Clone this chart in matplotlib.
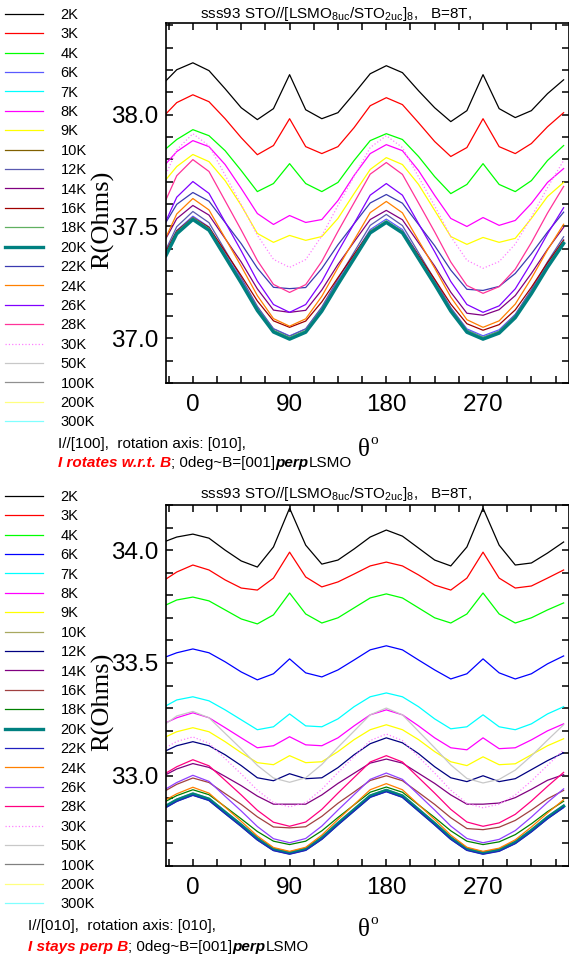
import matplotlib
matplotlib.use("Agg")
import matplotlib.pyplot as plt
from matplotlib.lines import Line2D
from matplotlib.ticker import MultipleLocator, FixedLocator, FormatStrFormatter

plt.rcParams['font.family'] = ['Liberation Sans', 'DejaVu Sans']

# rotation angle (deg)
theta = [-25, -15, 0, 15, 30, 45, 60, 75, 90, 105, 120, 135, 150, 165,
         180, 195, 210, 225, 240, 255, 270, 285, 300, 315, 330, 345]

temps = ['2K', '3K', '4K', '6K', '7K', '8K', '9K', '10K', '12K', '14K', '16K',
         '18K', '20K', '22K', '24K', '26K', '28K', '30K', '50K', '100K', '200K', '300K']

# ---- upper panel: I//[100], R in Ohms ----
t_2K = [38.152, 38.201, 38.232, 38.197, 38.116, 38.031, 37.978, 38.027, 38.179, 38.022, 37.982, 38.009, 38.094,
        38.183, 38.219, 38.188, 38.107, 38.031, 37.969, 38.018, 38.179, 38.027, 37.987, 38.018, 38.094, 38.156]
t_3K = [38.004, 38.054, 38.089, 38.058, 37.982, 37.897, 37.821, 37.862, 37.982, 37.857, 37.826, 37.857, 37.942,
        38.040, 38.076, 38.045, 37.964, 37.880, 37.813, 37.853, 37.982, 37.857, 37.826, 37.871, 37.946, 38.009]
t_4K = [37.848, 37.889, 37.933, 37.906, 37.839, 37.750, 37.656, 37.692, 37.781, 37.692, 37.656, 37.697, 37.795,
        37.884, 37.915, 37.889, 37.813, 37.723, 37.647, 37.688, 37.781, 37.688, 37.656, 37.705, 37.795, 37.862]
t_6K = [37.385, 37.482, 37.546, 37.498, 37.380, 37.262, 37.139, 37.043, 37.011, 37.042, 37.136, 37.256, 37.371,
        37.486, 37.533, 37.486, 37.371, 37.256, 37.136, 37.042, 37.011, 37.038, 37.107, 37.214, 37.332, 37.439]
t_8K = [37.781, 37.835, 37.884, 37.857, 37.777, 37.670, 37.558, 37.509, 37.549, 37.518, 37.531, 37.616, 37.728,
        37.826, 37.866, 37.839, 37.750, 37.639, 37.536, 37.500, 37.540, 37.505, 37.527, 37.603, 37.697, 37.759]
t_9K = [37.710, 37.768, 37.822, 37.790, 37.705, 37.594, 37.469, 37.429, 37.460, 37.438, 37.455, 37.536, 37.647,
        37.755, 37.808, 37.777, 37.688, 37.572, 37.455, 37.420, 37.451, 37.429, 37.447, 37.536, 37.634, 37.697]
t_12K = [37.398, 37.499, 37.567, 37.517, 37.394, 37.271, 37.143, 37.042, 37.009, 37.042, 37.140, 37.265, 37.385,
         37.505, 37.554, 37.504, 37.383, 37.262, 37.136, 37.037, 37.004, 37.032, 37.105, 37.218, 37.342, 37.454]
t_14K = [37.447, 37.535, 37.594, 37.551, 37.446, 37.341, 37.221, 37.126, 37.116, 37.125, 37.216, 37.330, 37.431,
         37.531, 37.572, 37.530, 37.427, 37.323, 37.206, 37.112, 37.103, 37.128, 37.191, 37.290, 37.398, 37.496]
t_16K = [37.389, 37.480, 37.540, 37.496, 37.388, 37.280, 37.167, 37.078, 37.049, 37.077, 37.163, 37.271, 37.375,
         37.479, 37.522, 37.478, 37.371, 37.264, 37.153, 37.065, 37.036, 37.061, 37.127, 37.228, 37.338, 37.439]
t_18K = [37.378, 37.475, 37.539, 37.491, 37.373, 37.255, 37.132, 37.036, 37.004, 37.035, 37.129, 37.249, 37.364,
         37.479, 37.526, 37.479, 37.364, 37.249, 37.129, 37.035, 37.004, 37.031, 37.100, 37.207, 37.325, 37.432]
t_20K = [37.370, 37.467, 37.531, 37.483, 37.365, 37.247, 37.124, 37.028, 36.996, 37.027, 37.121, 37.241, 37.356,
         37.471, 37.518, 37.471, 37.356, 37.241, 37.121, 37.027, 36.996, 37.023, 37.092, 37.199, 37.317, 37.424]
t_22K = [37.519, 37.599, 37.652, 37.613, 37.518, 37.423, 37.314, 37.228, 37.222, 37.227, 37.312, 37.418, 37.512,
         37.605, 37.643, 37.604, 37.509, 37.414, 37.305, 37.219, 37.214, 37.232, 37.290, 37.378, 37.475, 37.564]
t_24K = [37.452, 37.556, 37.625, 37.574, 37.448, 37.322, 37.191, 37.088, 37.054, 37.087, 37.188, 37.316, 37.439,
         37.562, 37.612, 37.561, 37.437, 37.314, 37.184, 37.083, 37.049, 37.078, 37.153, 37.268, 37.395, 37.510]
t_26K = [37.525, 37.631, 37.701, 37.648, 37.520, 37.391, 37.256, 37.151, 37.116, 37.151, 37.254, 37.387, 37.513,
         37.640, 37.692, 37.640, 37.513, 37.387, 37.254, 37.151, 37.116, 37.145, 37.221, 37.338, 37.467, 37.584]
t_28K = [37.620, 37.727, 37.799, 37.746, 37.615, 37.484, 37.348, 37.241, 37.205, 37.240, 37.344, 37.478, 37.606,
         37.734, 37.786, 37.733, 37.605, 37.476, 37.341, 37.236, 37.201, 37.231, 37.309, 37.428, 37.560, 37.679]
t_30K = [37.734, 37.843, 37.915, 37.861, 37.730, 37.598, 37.461, 37.353, 37.317, 37.352, 37.458, 37.594, 37.723,
         37.853, 37.906, 37.853, 37.722, 37.592, 37.455, 37.349, 37.313, 37.343, 37.421, 37.542, 37.674, 37.795]

# ---- lower panel: I//[010] ----
b_2K = [34.040, 34.058, 34.071, 34.053, 34.000, 33.952, 33.925, 34.014, 34.186, 34.022, 33.938, 33.956, 34.005,
        34.058, 34.089, 34.062, 34.009, 33.956, 33.930, 34.014, 34.186, 34.022, 33.934, 33.943, 33.987, 34.036]
b_3K = [33.872, 33.903, 33.934, 33.912, 33.868, 33.832, 33.823, 33.876, 33.991, 33.881, 33.837, 33.859, 33.894,
        33.930, 33.947, 33.930, 33.890, 33.845, 33.823, 33.876, 33.991, 33.876, 33.832, 33.841, 33.876, 33.912]
b_4K = [33.757, 33.779, 33.792, 33.775, 33.735, 33.695, 33.673, 33.713, 33.810, 33.717, 33.677, 33.700, 33.744,
        33.788, 33.806, 33.788, 33.744, 33.700, 33.677, 33.717, 33.810, 33.717, 33.677, 33.700, 33.735, 33.766]
b_6K = [33.527, 33.545, 33.562, 33.545, 33.505, 33.460, 33.425, 33.452, 33.518, 33.456, 33.438, 33.469, 33.513,
        33.558, 33.576, 33.558, 33.513, 33.469, 33.429, 33.452, 33.518, 33.456, 33.429, 33.452, 33.496, 33.531]
b_7K = [33.310, 33.336, 33.350, 33.332, 33.292, 33.248, 33.204, 33.217, 33.274, 33.221, 33.217, 33.252, 33.306,
        33.350, 33.367, 33.350, 33.306, 33.252, 33.208, 33.217, 33.270, 33.217, 33.204, 33.230, 33.274, 33.306]
b_8K = [33.235, 33.257, 33.279, 33.257, 33.213, 33.168, 33.124, 33.133, 33.173, 33.137, 33.133, 33.168, 33.221,
        33.270, 33.292, 33.270, 33.221, 33.168, 33.124, 33.115, 33.168, 33.120, 33.124, 33.159, 33.199, 33.230]
b_9K = [33.173, 33.195, 33.213, 33.195, 33.151, 33.102, 33.058, 33.049, 33.089, 33.058, 33.062, 33.107, 33.160,
        33.204, 33.226, 33.204, 33.160, 33.107, 33.062, 33.045, 33.084, 33.049, 33.053, 33.093, 33.133, 33.164]
b_10K = [32.869, 32.896, 32.923, 32.900, 32.842, 32.785, 32.725, 32.678, 32.662, 32.679, 32.728, 32.792, 32.853,
         32.914, 32.939, 32.914, 32.853, 32.792, 32.728, 32.679, 32.662, 32.675, 32.709, 32.761, 32.819, 32.869]
b_12K = [33.111, 33.133, 33.151, 33.133, 33.093, 33.045, 32.991, 32.978, 33.009, 32.987, 32.991, 33.036, 33.093,
         33.142, 33.168, 33.146, 33.098, 33.040, 32.991, 32.974, 33.000, 32.974, 32.987, 33.027, 33.067, 33.102]
b_14K = [33.005, 33.030, 33.054, 33.037, 32.997, 32.956, 32.910, 32.874, 32.874, 32.874, 32.915, 32.966, 33.011,
         33.056, 33.074, 33.056, 33.011, 32.966, 32.915, 32.874, 32.874, 32.879, 32.903, 32.940, 32.980, 33.005]
b_16K = [32.935, 32.962, 32.990, 32.970, 32.921, 32.873, 32.818, 32.773, 32.769, 32.774, 32.820, 32.878, 32.928,
         32.979, 33.000, 32.978, 32.926, 32.873, 32.814, 32.766, 32.761, 32.772, 32.802, 32.848, 32.898, 32.935]
b_18K = [32.887, 32.912, 32.938, 32.916, 32.863, 32.809, 32.753, 32.710, 32.695, 32.710, 32.756, 32.815, 32.871,
         32.927, 32.950, 32.927, 32.871, 32.815, 32.756, 32.710, 32.695, 32.707, 32.739, 32.787, 32.841, 32.887]
b_20K = [32.865, 32.892, 32.919, 32.896, 32.838, 32.781, 32.721, 32.674, 32.658, 32.675, 32.724, 32.788, 32.849,
         32.910, 32.935, 32.910, 32.849, 32.788, 32.724, 32.675, 32.658, 32.671, 32.705, 32.757, 32.815, 32.865]
b_22K = [32.859, 32.886, 32.913, 32.890, 32.832, 32.775, 32.715, 32.668, 32.652, 32.669, 32.718, 32.782, 32.843,
         32.904, 32.929, 32.904, 32.843, 32.782, 32.718, 32.669, 32.652, 32.665, 32.699, 32.751, 32.809, 32.859]
b_24K = [32.894, 32.920, 32.949, 32.923, 32.861, 32.798, 32.733, 32.682, 32.665, 32.683, 32.737, 32.806, 32.872,
         32.938, 32.965, 32.938, 32.872, 32.806, 32.737, 32.683, 32.665, 32.679, 32.716, 32.773, 32.835, 32.894]
b_26K = [32.942, 32.970, 33.002, 32.975, 32.909, 32.844, 32.775, 32.721, 32.703, 32.722, 32.777, 32.848, 32.916,
         32.984, 33.012, 32.984, 32.916, 32.848, 32.777, 32.722, 32.703, 32.718, 32.757, 32.817, 32.882, 32.942]
b_28K = [33.012, 33.040, 33.071, 33.044, 32.980, 32.915, 32.847, 32.794, 32.776, 32.795, 32.851, 32.923, 32.992,
         33.061, 33.089, 33.061, 32.992, 32.923, 32.851, 32.795, 32.776, 32.791, 32.829, 32.888, 32.953, 33.015]
b_30K = [33.125, 33.152, 33.172, 33.144, 33.076, 33.008, 32.936, 32.881, 32.862, 32.881, 32.940, 33.014, 33.085,
         33.156, 33.185, 33.156, 33.084, 33.012, 32.936, 32.878, 32.858, 32.874, 32.915, 32.977, 33.046, 33.115]
b_50K = [33.231, 33.265, 33.285, 33.257, 33.188, 33.119, 33.046, 32.990, 32.971, 32.991, 33.050, 33.126, 33.198,
         33.270, 33.300, 33.270, 33.197, 33.124, 33.048, 32.988, 32.968, 32.984, 33.025, 33.088, 33.158, 33.226]

top_data = {'2K': t_2K, '3K': t_3K, '4K': t_4K, '6K': t_6K, '8K': t_8K, '9K': t_9K, '12K': t_12K,
            '14K': t_14K, '16K': t_16K, '18K': t_18K, '20K': t_20K, '22K': t_22K, '24K': t_24K,
            '26K': t_26K, '28K': t_28K, '30K': t_30K}
bot_data = {'2K': b_2K, '3K': b_3K, '4K': b_4K, '6K': b_6K, '7K': b_7K, '8K': b_8K, '9K': b_9K,
            '10K': b_10K, '12K': b_12K, '14K': b_14K, '16K': b_16K, '18K': b_18K, '20K': b_20K,
            '22K': b_22K, '24K': b_24K, '26K': b_26K, '28K': b_28K, '30K': b_30K, '50K': b_50K}

top_colors = ['#000000', '#ff0000', '#00ff00', '#5a5aff', '#00ffff', '#ff00ff', '#ffff00', '#806000',
              '#5a5ab0', '#800080', '#a00000', '#60b060', '#008080', '#3a3ab0', '#ff8000', '#8000ff',
              '#ff3399', '#ff80ff', '#c8c8c8', '#909090', '#ffff80', '#80ffff']
bot_colors = ['#000000', '#ff0000', '#00ff00', '#0000ff', '#00ffff', '#ff00ff', '#ffff00', '#a8a860',
              '#000080', '#800080', '#a04040', '#008000', '#008080', '#2020c0', '#ff8000', '#9040ff',
              '#ff0080', '#ff80ff', '#c8c8c8', '#808080', '#ffff80', '#80ffff']


def style(label):
    if label == '20K':
        return 2.4, '-'
    if label == '30K':
        return 0.9, ':'
    return 0.9, '-'


fig = plt.figure(figsize=(5.69, 9.59), dpi=100)


def panel(rect, data, colors, ylim):
    ax = fig.add_axes(rect)
    for lab, col in zip(temps, colors):
        if lab in data:
            lw, ls = style(lab)
            ax.plot(theta, data[lab], color=col, lw=lw, ls=ls)
    ax.set_xlim(-25, 350)
    ax.set_ylim(*ylim)
    ax.xaxis.set_major_locator(FixedLocator([0, 90, 180, 270]))
    ax.xaxis.set_minor_locator(MultipleLocator(22.5))
    ax.yaxis.set_major_locator(MultipleLocator(0.5))
    ax.yaxis.set_minor_locator(MultipleLocator(0.1))
    ax.yaxis.set_major_formatter(FormatStrFormatter('%.1f'))
    ax.tick_params(which='both', direction='in', top=True, right=True, length=5, width=1.1,
                   labelsize=17.5)
    ax.tick_params(axis='x', pad=8)
    ax.tick_params(axis='y', pad=5.5)
    for sp in ax.spines.values():
        sp.set_linewidth(1.2)
    handles = []
    for lab, col in zip(temps, colors):
        lw, ls = style(lab)
        handles.append(Line2D([], [], color=col, lw=lw, ls=ls))
    return ax, handles


W, H = 569, 959
ax1, h1 = panel([166 / W, 1 - 383 / H, 403 / W, 360 / H], top_data, top_colors, (36.80, 38.41))
ax2, h2 = panel([166 / W, 1 - 866 / H, 403 / W, 361 / H], bot_data, bot_colors, (32.60, 34.20))

for h, ytop in [(h1, 8), (h2, 490)]:
    fig.legend(h, temps, loc='upper left', bbox_to_anchor=(5 / W, 1 - ytop / H), frameon=False,
               fontsize=10.5, handlelength=2.6, handletextpad=1.2, labelspacing=0.37,
               borderpad=0, borderaxespad=0)

title = r'sss93 STO//[LSMO$_{\mathregular{8uc}}$/STO$_{\mathregular{2uc}}$]$_{\mathregular{8}}$,   B=8T,'
for yb in [18, 498]:
    fig.text(200 / W, 1 - yb / H, title, fontsize=11, va='baseline')

for yc in [220, 702]:
    fig.text(103 / W, 1 - yc / H, 'R(Ohms)', rotation=90, family='Liberation Serif', fontsize=19,
             ha='center', va='center')

for yc in [450, 930]:
    fig.text(364 / W, 1 - yc / H, 'θ', family='Liberation Serif', fontsize=18, ha='center', va='center')
    fig.text(374 / W, 1 - (yc - 10) / H, 'o', family='Liberation Serif', fontsize=11, ha='center',
             va='center')


def put_line(x, y, parts):
    r = fig.canvas.get_renderer()
    for s, col, wt, st in parts:
        t = fig.text(x, y, s, color=col, fontweight=wt, fontstyle=st, fontsize=11, va='center')
        x = t.get_window_extent(r).x1 / fig.bbox.width


put_line(58 / W, 1 - 444 / H, [('I//[100],  rotation axis: [010],', 'black', 'normal', 'normal')])
put_line(58 / W, 1 - 463 / H, [('I rotates w.r.t. B', 'red', 'bold', 'italic'),
                               ('; 0deg~B=[001]', 'black', 'normal', 'normal'),
                               ('perp', 'black', 'bold', 'italic'),
                               ('LSMO', 'black', 'normal', 'normal')])
put_line(28 / W, 1 - 926 / H, [('I//[010],  rotation axis: [010],', 'black', 'normal', 'normal')])
put_line(28 / W, 1 - 947 / H, [('I stays perp B', 'red', 'bold', 'italic'),
                               ('; 0deg~B=[001]', 'black', 'normal', 'normal'),
                               ('perp', 'black', 'bold', 'italic'),
                               ('LSMO', 'black', 'normal', 'normal')])

fig.savefig('out.png', dpi=100)
